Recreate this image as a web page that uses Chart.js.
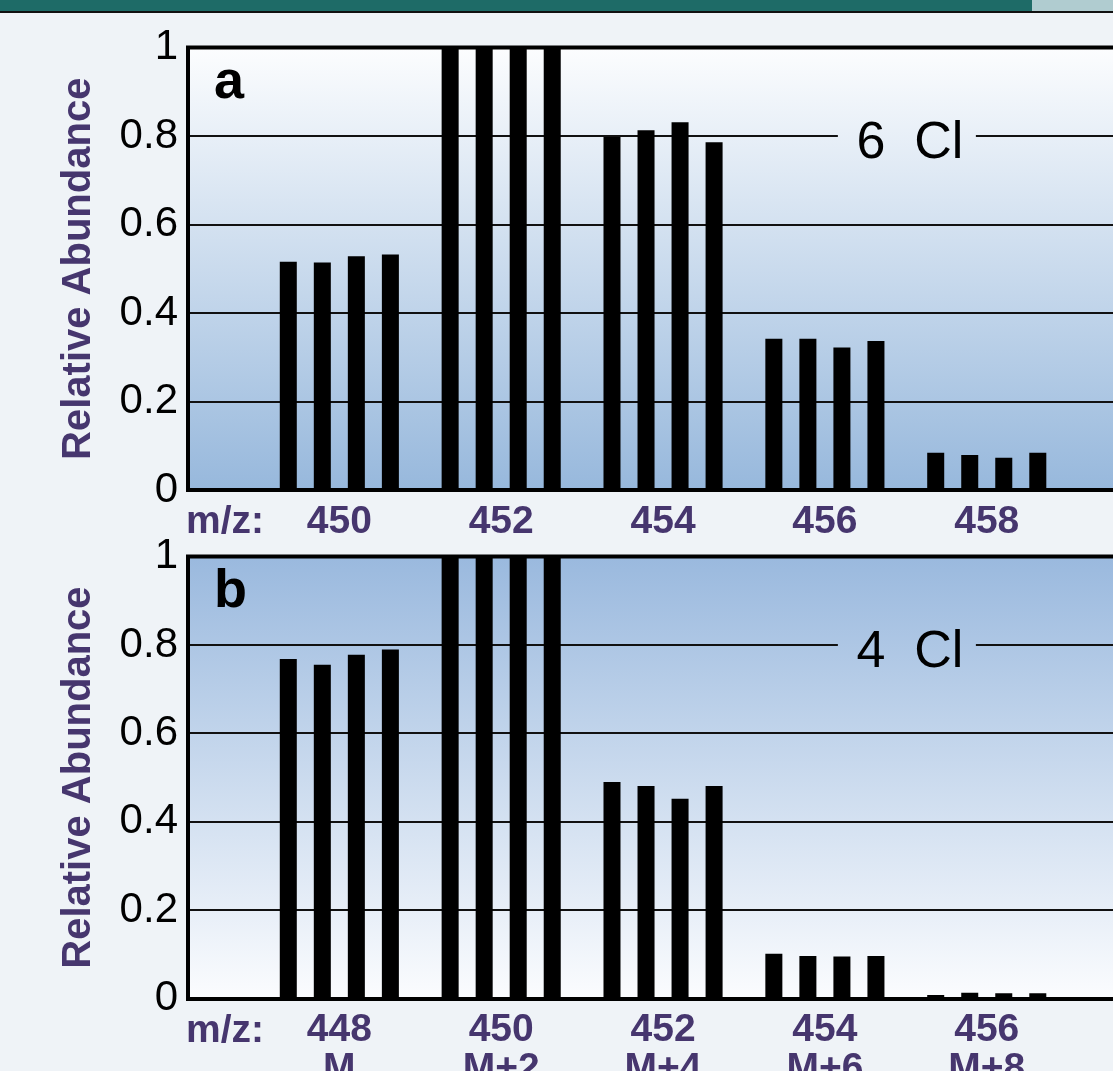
<!DOCTYPE html>
<html>
<head>
<meta charset="utf-8">
<script src="https://cdn.jsdelivr.net/npm/chart.js@4.4.1/dist/chart.umd.min.js"></script>
<style>
  html, body { margin: 0; padding: 0; width: 1113px; height: 1071px; overflow: hidden; background: #eff3f7; }
  #band { position: absolute; left: 0; top: 0; width: 1113px; height: 11px; background: #1e6b67; }
  #bandEnd { position: absolute; left: 1032px; top: 0; width: 81px; height: 11px; background: #b0ccd0; }
  #rule { position: absolute; left: 0; top: 11px; width: 1113px; height: 2px; background: #111; }
  canvas { position: absolute; left: 0; }
  #chartA { top: 0; }
  #chartB { top: 500px; }
</style>
</head>
<body>
<div id="band"></div><div id="bandEnd"></div><div id="rule"></div>
<canvas id="chartA" width="1113" height="545"></canvas>
<canvas id="chartB" width="1113" height="600"></canvas>
<script>
// panel a (6 Cl): four replicate spectra per m/z
const mzA = [450, 452, 454, 456, 458];
const a1 = [0.516, 1, 0.798, 0.342, 0.084];
const a2 = [0.514, 1, 0.813, 0.342, 0.079];
const a3 = [0.528, 1, 0.831, 0.322, 0.073];
const a4 = [0.532, 1, 0.786, 0.337, 0.084];

// panel b (4 Cl)
const mzB = [448, 450, 452, 454, 456];
const isoB = ['M', 'M+2', 'M+4', 'M+6', 'M+8'];
const b1 = [0.768, 1, 0.490, 0.101, 0.008];
const b2 = [0.755, 1, 0.481, 0.096, 0.013];
const b3 = [0.778, 1, 0.452, 0.095, 0.012];
const b4 = [0.790, 1, 0.481, 0.096, 0.012];

const FONT = '"Liberation Sans", Arial, Helvetica, sans-serif';
const PURPLE = '#46366e';
const XPAD = 13;

const panelDecor = {
    id: 'panelDecor',
    beforeDraw(chart, args, o) {
        const ctx = chart.ctx, ca = chart.chartArea;
        const g = ctx.createLinearGradient(0, ca.top, 0, ca.bottom);
        g.addColorStop(0, o.bgTop);
        g.addColorStop(1, o.bgBottom);
        chart.$bg = g;
        ctx.save();
        ctx.fillStyle = g;
        ctx.fillRect(ca.left, ca.top, ca.right - ca.left, ca.bottom - ca.top);
        ctx.restore();
    },
    afterDraw(chart, args, o) {
        const ctx = chart.ctx, ca = chart.chartArea;
        const xs = chart.scales.x, ys = chart.scales.y;
        ctx.save();
        // top frame line
        ctx.strokeStyle = '#000';
        ctx.lineWidth = 4;
        ctx.beginPath();
        ctx.moveTo(ca.left - 2, ca.top);
        ctx.lineTo(ca.right, ca.top);
        ctx.stroke();
        // "6  Cl" label sitting on the 0.8 line
        const cx = xs.getPixelForValue(o.clAt);
        const gy = ys.getPixelForValue(0.8);
        ctx.fillStyle = chart.$bg;
        ctx.fillRect(cx - 72, gy - 4, 138, 8);
        ctx.fillStyle = '#000';
        ctx.font = '52px ' + FONT;
        ctx.textAlign = 'center';
        ctx.textBaseline = 'alphabetic';
        ctx.fillText(o.clText, cx, gy + 22);
        // panel letter
        ctx.font = 'bold 54px ' + FONT;
        ctx.textAlign = 'left';
        ctx.fillText(o.letter, ca.left + 26, ca.top + 50.5);
        // m/z: caption in front of the tick labels
        ctx.fillStyle = PURPLE;
        ctx.font = 'bold 39px ' + FONT;
        ctx.textBaseline = 'middle';
        ctx.fillText('m/z:', ca.left - 2, xs.top + XPAD + 19.5);
        ctx.restore();
    }
};

function makeChart(id, p) {
    const ds = p.series.map(function(vals, k) {
        return {
            label: 'Run ' + (k + 1),
            data: vals.map(function(v, j) { return {x: p.mz[j], y: v}; }),
            backgroundColor: '#000',
            borderWidth: 0,
            categoryPercentage: 0.841,
            barPercentage: 0.5
        };
    });
    return new Chart(document.getElementById(id), {
        type: 'bar',
        data: { datasets: ds },
        options: {
            responsive: false,
            animation: false,
            devicePixelRatio: 1,
            layout: { padding: { top: p.padTop, left: 0, right: 0, bottom: 0 } },
            plugins: {
                legend: { display: false },
                tooltip: { enabled: false },
                panelDecor: { bgTop: p.bgTop, bgBottom: p.bgBottom, letter: p.letter, clText: p.clText, clAt: p.clAt }
            },
            scales: {
                x: {
                    type: 'linear',
                    offset: false,
                    min: p.mz[0] - 1.87,
                    max: p.mz[0] + 9.56,
                    afterBuildTicks: function(s) { s.ticks = p.mz.map(function(v) { return {value: v}; }); },
                    afterFit: function(s) { s.height = p.axisH; },
                    grid: { display: false, drawTicks: false },
                    border: { display: true, color: '#000', width: 4 },
                    ticks: {
                        padding: XPAD,
                        maxRotation: 0,
                        autoSkip: false,
                        color: PURPLE,
                        font: { family: FONT, size: 39, weight: 'bold', lineHeight: 0.98 },
                        callback: function(v) {
                            const i = p.mz.indexOf(v);
                            return p.iso ? [String(v), p.iso[i]] : String(v);
                        }
                    }
                },
                y: {
                    min: 0,
                    max: 1,
                    afterFit: function(s) { s.width = 188; },
                    grid: { color: '#111', lineWidth: 2, drawTicks: false },
                    border: { display: true, color: '#000', width: 4 },
                    ticks: {
                        stepSize: 0.2,
                        padding: 10,
                        color: '#000',
                        font: { family: FONT, size: 42 },
                        callback: function(v) { return String(+v.toFixed(1)); }
                    },
                    title: {
                        display: true,
                        text: 'Relative Abundance',
                        color: PURPLE,
                        font: { family: FONT, size: 40, weight: 'bold', lineHeight: 1.2 },
                        padding: { top: 55, bottom: 0 }
                    }
                }
            }
        },
        plugins: [panelDecor]
    });
}

makeChart('chartA', {
    mz: mzA, series: [a1, a2, a3, a4],
    padTop: 47.5, axisH: 55,
    bgTop: '#fcfdfe', bgBottom: '#97b8dc',
    letter: 'a', clText: '6  Cl', clAt: 457.05
});

makeChart('chartB', {
    mz: mzB, iso: isoB, series: [b1, b2, b3, b4],
    padTop: 56.6, axisH: 101.5,
    bgTop: '#9ab9de', bgBottom: '#fbfcfe',
    letter: 'b', clText: '4  Cl', clAt: 455.05
});
</script>
</body>
</html>
